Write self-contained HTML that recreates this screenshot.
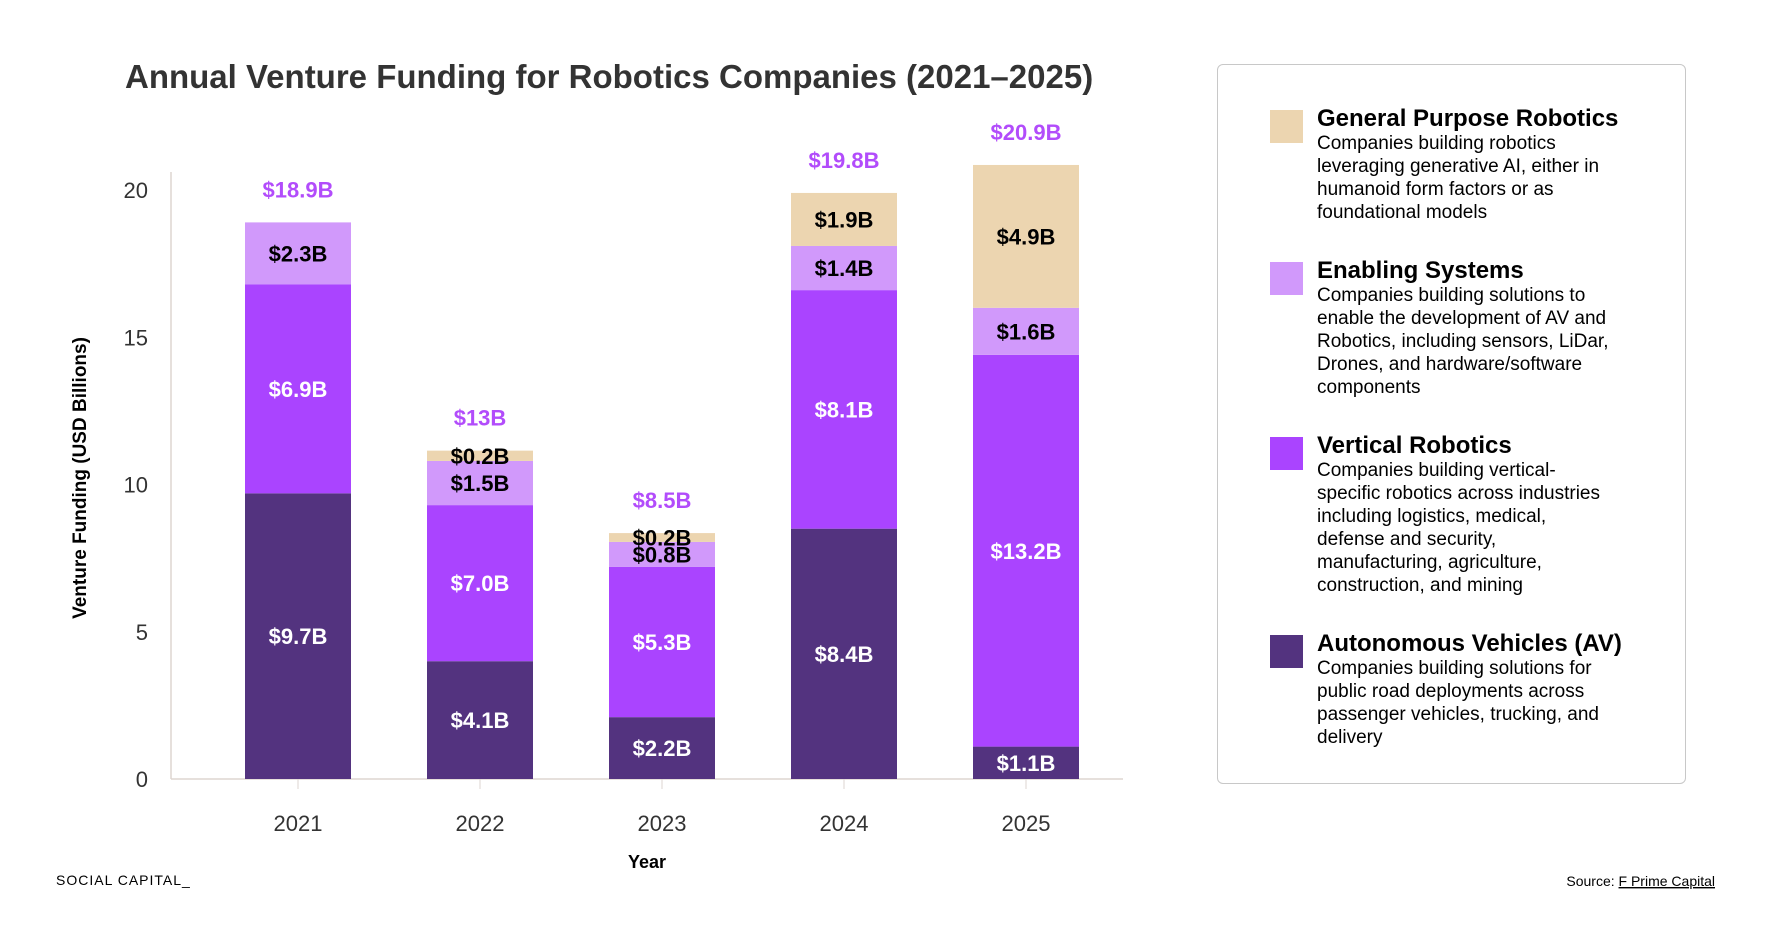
<!DOCTYPE html>
<html><head><meta charset="utf-8">
<style>
html,body{margin:0;padding:0;background:#fff;}
body{width:1768px;height:926px;position:relative;overflow:hidden;font-family:"Liberation Sans",sans-serif;}
.legend{position:absolute;left:1217px;top:64px;width:469px;height:720px;border:1.5px solid #c8c8c8;border-radius:6px;box-sizing:border-box;}
.item{position:absolute;left:52px;}
.sw{position:absolute;left:0;top:0;width:33px;height:33px;}
.txt{position:absolute;left:47px;top:-4px;width:300px;color:#000;}
.h{font-weight:bold;font-size:24px;line-height:26px;white-space:nowrap;}
.b{font-size:19px;line-height:23px;}
</style></head><body>
<svg id="chart" width="1768" height="926" style="position:absolute;left:0;top:0">
<text x="125" y="88" font-family="Liberation Sans" font-weight="bold" font-size="33" fill="#333">Annual Venture Funding for Robotics Companies (2021–2025)</text>
<text transform="translate(86,478) rotate(-90)" text-anchor="middle" font-family="Liberation Sans" font-weight="bold" font-size="19" fill="#000">Venture Funding (USD Billions)</text>
<text x="647" y="868" text-anchor="middle" font-family="Liberation Sans" font-weight="bold" font-size="18" fill="#000">Year</text>
<text x="56" y="885" font-family="Liberation Sans" font-size="14" letter-spacing="1" fill="#000">SOCIAL CAPITAL_</text>
<text x="1715" y="886" text-anchor="end" font-family="Liberation Sans" font-size="14" fill="#000">Source: <tspan text-decoration="underline">F Prime Capital</tspan></text>
<g id="plot"></g>
</svg>
<div class="legend">
 <div class="item" style="top:45px"><div class="sw" style="background:#ecd5b0"></div><div class="txt"><div class="h">General Purpose Robotics</div><div class="b">Companies building robotics leveraging generative AI, either in humanoid form factors or as foundational models</div></div></div>
 <div class="item" style="top:197px"><div class="sw" style="background:#d199fb"></div><div class="txt"><div class="h">Enabling Systems</div><div class="b">Companies building solutions to enable the development of AV and Robotics, including sensors, LiDar, Drones, and hardware/software components</div></div></div>
 <div class="item" style="top:372px"><div class="sw" style="background:#aa44ff"></div><div class="txt"><div class="h">Vertical Robotics</div><div class="b">Companies building vertical-<br>specific robotics across industries including logistics, medical, defense and security, manufacturing, agriculture, construction, and mining</div></div></div>
 <div class="item" style="top:570px"><div class="sw" style="background:#53337f"></div><div class="txt"><div class="h">Autonomous Vehicles (AV)</div><div class="b">Companies building solutions for public road deployments across passenger vehicles, trucking, and delivery</div></div></div>
</div>
<script>
const years = ['2021','2022','2023','2024','2025'];
const avValues = [9.7, 4.0, 2.1, 8.5, 1.1];
const verticalValues = [7.1, 5.3, 5.1, 8.1, 13.3];
const enablingValues = [2.1, 1.5, 0.85, 1.5, 1.6];
const gprValues = [0, 0.35, 0.3, 1.8, 4.85];
const avLabels = ['$9.7B','$4.1B','$2.2B','$8.4B','$1.1B'];
const verticalLabels = ['$6.9B','$7.0B','$5.3B','$8.1B','$13.2B'];
const enablingLabels = ['$2.3B','$1.5B','$0.8B','$1.4B','$1.6B'];
const gprLabels = ['','$0.2B','$0.2B','$1.9B','$4.9B'];
const totalLabels = ['$18.9B','$13B','$8.5B','$19.8B','$20.9B'];
const yTicks = [0,5,10,15,20];

const NS='http://www.w3.org/2000/svg';
const g=document.getElementById('plot');
const y0=779, pxPerUnit=29.45;
const yS=v=>y0-v*pxPerUnit;
const xS=i=>298+i*182;
const bw=106;
function mk(tag,attrs){const e=document.createElementNS(NS,tag);for(const k in attrs)e.setAttribute(k,attrs[k]);g.appendChild(e);return e;}
let ax=mk('line',{x1:171,y1:172,x2:171,y2:y0,stroke:'#ddd6d0','stroke-width':1.5});


let bx=mk('line',{x1:171,y1:y0,x2:1123,y2:y0,stroke:'#ddd6d0','stroke-width':1.5});


yTicks.forEach(t=>{
  const e=mk('text',{x:148,y:yS(t)+8,'text-anchor':'end','font-family':'Liberation Sans','font-size':22,fill:'#333'});
  e.textContent=t;
  
  
});
const series=[
 {vals:avValues,labels:avLabels,color:'#53337f',tc:'#fff',name:'av'},
 {vals:verticalValues,labels:verticalLabels,color:'#aa44ff',tc:'#fff',name:'vertical'},
 {vals:enablingValues,labels:enablingLabels,color:'#d199fb',tc:'#000',name:'enabling'},
 {vals:gprValues,labels:gprLabels,color:'#ecd5b0',tc:'#000',name:'gpr'}
];
years.forEach((yr,i)=>{
  const cx=xS(i);
  const tk=mk('line',{x1:cx,y1:y0,x2:cx,y2:y0+10,stroke:'#ddd6d0','stroke-width':1});
  
  
  const yl=mk('text',{x:cx,y:y0+52,'text-anchor':'middle','font-family':'Liberation Sans','font-size':22,fill:'#333'});
  yl.textContent=yr;
  
  
  let base=0;
  series.forEach(s=>{
    const v=s.vals[i];
    if(v>0){
      const r=mk('rect',{x:cx-bw/2,y:yS(base+v),width:bw,height:v*pxPerUnit,fill:s.color});
      
      
      if(s.labels[i]){
        const t=mk('text',{x:cx,y:yS(base+v/2)+8,'text-anchor':'middle','font-family':'Liberation Sans','font-weight':'bold','font-size':22,fill:s.tc});
        t.textContent=s.labels[i];
        
        
      }
    }
    base+=v;
  });
  const tt=mk('text',{x:cx,y:yS(base)-25,'text-anchor':'middle','font-family':'Liberation Sans','font-weight':'bold','font-size':22,fill:'#b24cfb'});
  tt.textContent=totalLabels[i];
  
  
});
</script>
</body></html>
